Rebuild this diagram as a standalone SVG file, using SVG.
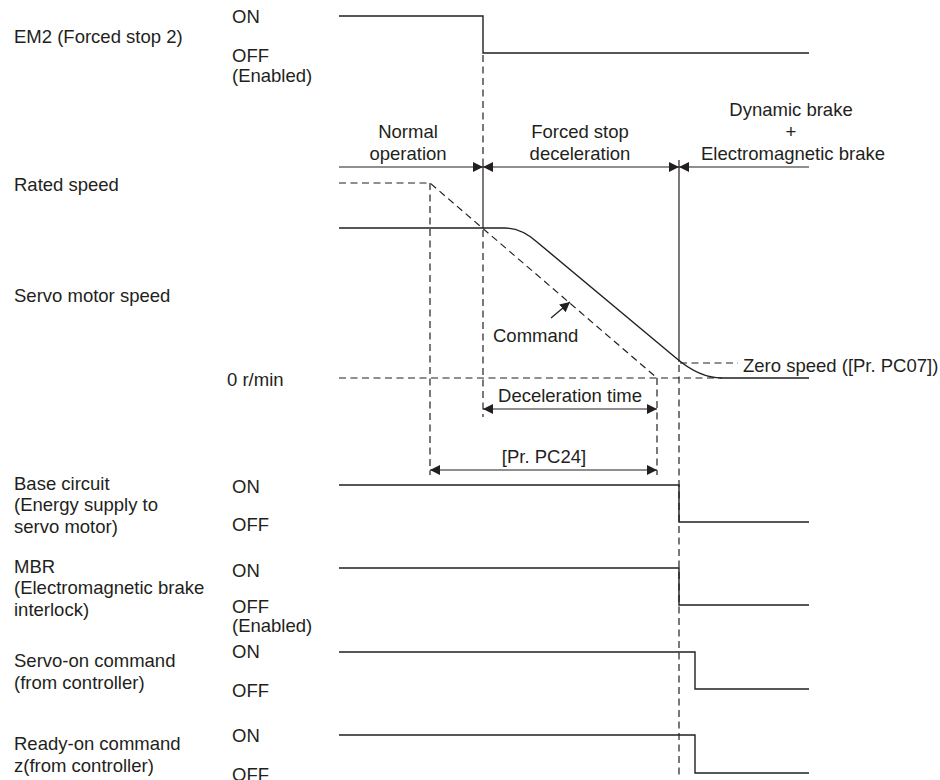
<svg xmlns="http://www.w3.org/2000/svg" width="940" height="780" viewBox="0 0 940 780">
<style>
text{font-family:"Liberation Sans",Arial,sans-serif;font-size:18.5px;fill:#231f20}
.c{text-anchor:middle}
.s{fill:none;stroke:#231f20;stroke-width:1.4}
.d{fill:none;stroke:#231f20;stroke-width:1.2;stroke-dasharray:7 4.5}
.a{fill:none;stroke:#231f20;stroke-width:1.2}
</style>
<defs>
<marker id="ah" viewBox="0 0 10 10" refX="10" refY="5" markerWidth="10" markerHeight="10" markerUnits="userSpaceOnUse" orient="auto-start-reverse">
<path d="M0,0 L10,5 L0,10 z" fill="#231f20"/>
</marker>
</defs>
<rect width="940" height="780" fill="#fff"/>

<g id="em2">
<text x="14" y="43">EM2 (Forced stop 2)</text>
<text x="232" y="23">ON</text>
<text x="232" y="62">OFF</text>
<text x="232" y="82">(Enabled)</text>
<path class="s" d="M339,16 H483 V53 H809"/>
</g>

<g id="phases">
<text class="c" x="408" y="138">Normal</text>
<text class="c" x="408" y="160">operation</text>
<text class="c" x="580" y="138">Forced stop</text>
<text class="c" x="580" y="160">deceleration</text>
<text class="c" x="791" y="116">Dynamic brake</text>
<text class="c" x="791" y="138">+</text>
<text class="c" x="793" y="160">Electromagnetic brake</text>
</g>

<g id="speed">
<text x="14" y="191">Rated speed</text>
<text x="14" y="302">Servo motor speed</text>
<text x="227" y="386">0 r/min</text>
<path class="s" d="M339,228 H505 C518,228 528,234 537,242 L676,358 C690,370 704,378 722,378 H809"/>
</g>

<g id="command">
<path class="d" d="M339,183 H430 L657,378"/>
<text x="493" y="342">Command</text>
</g>

<g id="zero-speed">
<text x="743" y="372">Zero speed ([Pr. PC07])</text>
</g>

<g id="decel-time">
<text class="c" x="570" y="402">Deceleration time</text>
</g>

<g id="pc24">
<text class="c" x="544" y="463">[Pr. PC24]</text>
</g>

<g id="base-circuit">
<text x="14" y="490">Base circuit</text>
<text x="14" y="511">(Energy supply to</text>
<text x="14" y="533">servo motor)</text>
<text x="232" y="493">ON</text>
<text x="232" y="531">OFF</text>
<path class="s" d="M339,485 H679 V522 H809"/>
</g>

<g id="mbr">
<text x="14" y="573">MBR</text>
<text x="14" y="594">(Electromagnetic brake</text>
<text x="14" y="616">interlock)</text>
<text x="232" y="577">ON</text>
<text x="232" y="613">OFF</text>
<text x="232" y="632">(Enabled)</text>
<path class="s" d="M339,568 H679 V605 H809"/>
</g>

<g id="servo-on">
<text x="14" y="667">Servo-on command</text>
<text x="14" y="689">(from controller)</text>
<text x="232" y="658">ON</text>
<text x="232" y="697">OFF</text>
<path class="s" d="M339,652 H695 V689 H809"/>
</g>

<g id="ready-on">
<text x="14" y="750">Ready-on command</text>
<text x="14" y="772">z(from controller)</text>
<text x="232" y="742">ON</text>
<text x="232" y="781">OFF</text>
<path class="s" d="M339,735 H695 V773 H809"/>
</g>

<g id="connectors">
<path class="a" d="M339,167 H483" marker-end="url(#ah)"/>
<path class="a" d="M483,167 H679" marker-start="url(#ah)" marker-end="url(#ah)"/>
<path class="a" d="M679,167 H809" marker-start="url(#ah)"/>
<path class="d" d="M483,55 V160"/>
<path class="a" d="M483,160 V228"/>
<path class="d" d="M483,230 V417"/>
<path class="a" d="M679,160 V362"/>
<path class="d" d="M679,365 V775"/>
<path class="d" d="M430,183 V475"/>
<path class="d" d="M657,378 V475"/>
<path class="d" d="M339,378 H722"/>
<path class="d" d="M680,363 H738"/>
<path class="a" d="M483,409 H657" marker-start="url(#ah)" marker-end="url(#ah)"/>
<path class="a" d="M430,470 H657" marker-start="url(#ah)" marker-end="url(#ah)"/>
<path class="a" d="M551,318 L570,302" marker-end="url(#ah)"/>
</g>
</svg>
